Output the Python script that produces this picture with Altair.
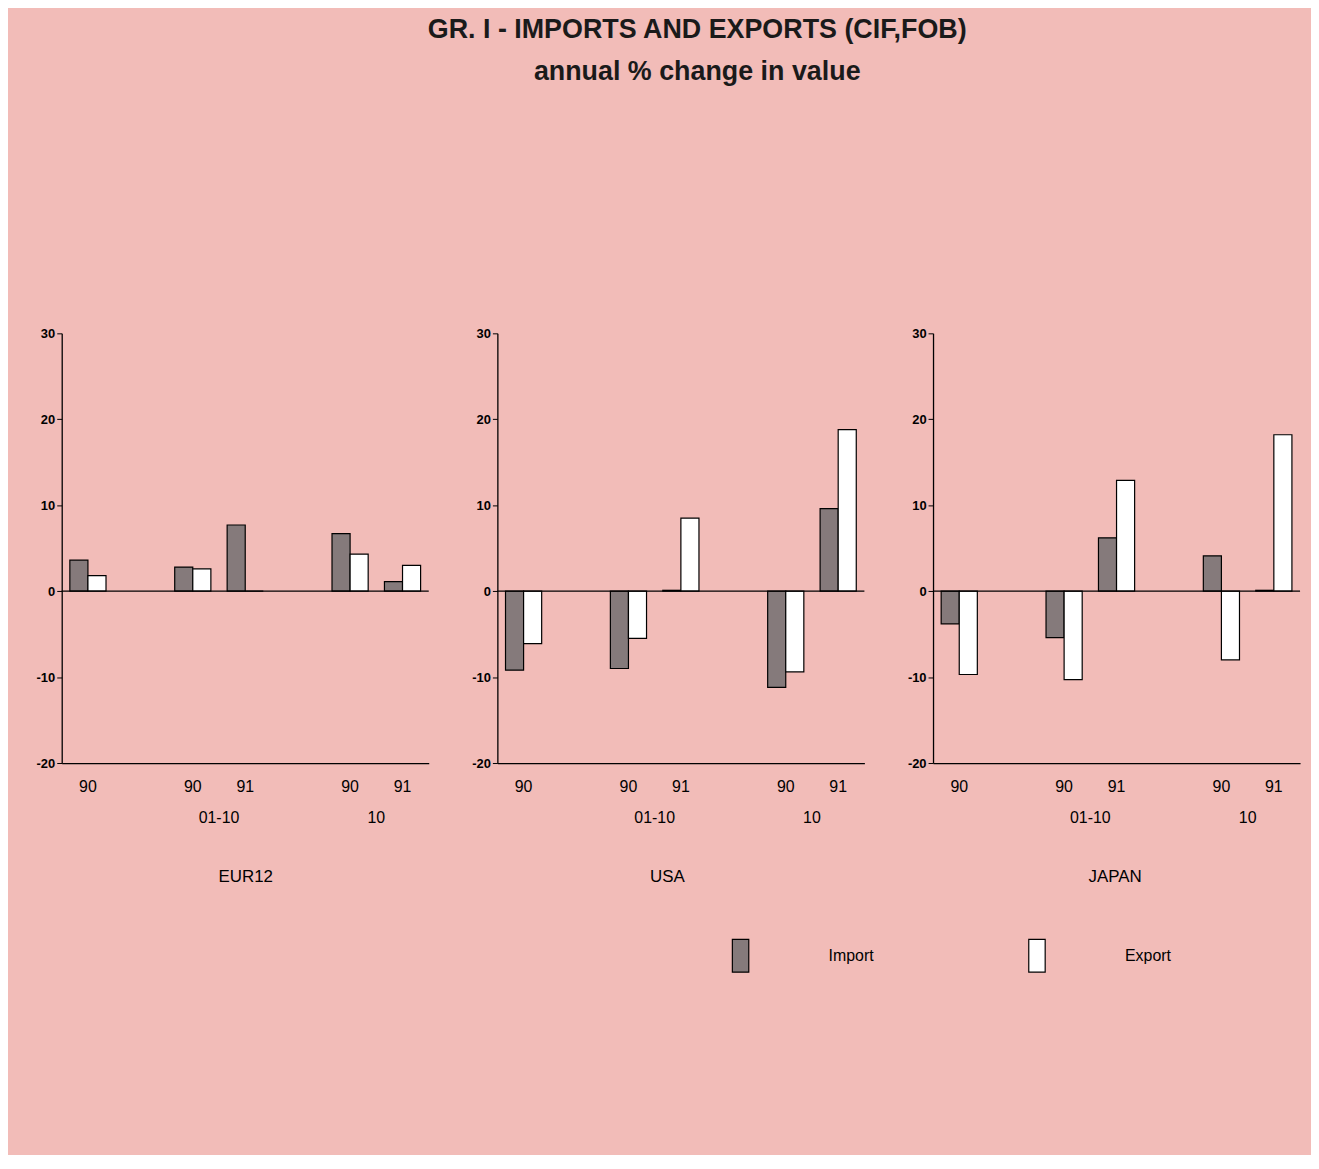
import json
import altair as alt
import pandas as pd

# ---------------- data ----------------
countries = ["EUR12", "USA", "JAPAN"]
flows = ["Import", "Export"]
period_keys = ["A90", "B90", "B91", "C90", "C91"]
period_year = ["90", "90", "91", "90", "91"]
sub_keys = ["B90", "C90"]
sub_labels = ["01-10", "10"]

eur12_import = [3.6, 2.8, 7.7, 6.7, 1.1]
eur12_export = [1.8, 2.6, 0.0, 4.3, 3.0]
usa_import = [-9.2, -9.0, 0.1, -11.2, 9.6]
usa_export = [-6.1, -5.5, 8.5, -9.4, 18.8]
japan_import = [-3.8, -5.4, 6.2, 4.1, 0.1]
japan_export = [-9.7, -10.3, 12.9, -8.0, 18.2]

series = {
    "EUR12": (eur12_import, eur12_export),
    "USA": (usa_import, usa_export),
    "JAPAN": (japan_import, japan_export),
}

rows = []
for c in countries:
    imp, exp = series[c]
    for k, vi, ve in zip(period_keys, imp, exp):
        rows.append({"country": c, "period": k, "flow": "Import", "value": vi})
        rows.append({"country": c, "period": k, "flow": "Export", "value": ve})
df = pd.DataFrame(rows)
sub_df = pd.DataFrame({"period": sub_keys, "label": sub_labels})

# full x domain with empty slots
x_domain = ["A90", "gap1", "B90", "B91", "gap2", "C90", "C91"]
label_map = dict(zip(period_keys, period_year))
label_expr = f"({json.dumps(label_map)})[datum.value] || ''"

FONT = "Liberation Sans Narrow, Arial Narrow, Liberation Sans, sans-serif"
BG = "#f2bcb8"
W, H = 369, 432

title_shift = {"EUR12": 0, "USA": -14, "JAPAN": -2}


def panel(country):
    x_axis = alt.Axis(
        title=country,
        labelExpr=label_expr,
        labelAngle=0,
        ticks=False,
        domainColor="black",
        domainWidth=1.3,
        labelFont=FONT,
        labelFontSize=16,
        labelColor="black",
        labelPadding=16,
        titleFont=FONT,
        titleFontSize=17,
        titleFontWeight="normal",
        titleColor="black",
        titlePadding=74,
        titleX=W / 2 + title_shift[country],
    )
    x_scale = alt.Scale(domain=x_domain, paddingInner=0, paddingOuter=0)
    base = alt.Chart(df[df.country == country])
    bars = base.mark_bar(stroke="black", strokeWidth=1.2).encode(
        x=alt.X("period:N", scale=x_scale, axis=x_axis),
        xOffset=alt.XOffset(
            "flow:N",
            scale=alt.Scale(domain=flows, paddingInner=0, paddingOuter=0.45),
        ),
        y=alt.Y(
            "value:Q",
            scale=alt.Scale(domain=[-20, 30], nice=False, zero=False),
            axis=alt.Axis(
                title=None,
                values=[-20, -10, 0, 10, 20, 30],
                labelExpr="'' + datum.value",
                grid=False,
                tickSize=5,
                tickColor="black",
                domainColor="black",
                domainWidth=1.3,
                labelFont=FONT,
                labelFontSize=13,
                labelFontWeight="bold",
                labelColor="black",
                labelPadding=2,
            ),
        ),
        fill=alt.Fill(
            "flow:N",
            scale=alt.Scale(domain=flows, range=["#857a7b", "#ffffff"]),
            legend=alt.Legend(
                title=None,
                orient="none",
                direction="horizontal",
                legendX=665,
                legendY=608,
                symbolType="M-0.5,-1H0.5V1H-0.5Z",
                symbolSize=1089,
                symbolStrokeColor="black",
                symbolStrokeWidth=1.2,
                labelFont=FONT,
                labelFontSize=16,
                labelColor="black",
                labelOffset=71,
                columnPadding=146,
                padding=0,
            ),
        ),
    )
    zero = alt.Chart().mark_rule(color="black", strokeWidth=1.3).encode(y=alt.datum(0))
    subs = alt.Chart(sub_df).mark_text(
        font=FONT, fontSize=16, color="black", baseline="middle"
    ).encode(
        x=alt.X("period:N", bandPosition=1, scale=x_scale, axis=x_axis),
        y=alt.value(H + 55),
        text="label:N",
    )
    return alt.layer(bars, zero, subs).properties(width=W, height=H)


chart = alt.hconcat(*[panel(c) for c in countries], spacing=42).properties(
    title=alt.TitleParams(
        text="GR. I - IMPORTS AND EXPORTS (CIF,FOB)",
        subtitle="annual % change in value",
        font="Liberation Sans",
        fontSize=27,
        fontWeight="bold",
        color="#1a1a1a",
        subtitleFont="Liberation Sans",
        subtitleFontSize=27,
        subtitleFontWeight="bold",
        subtitleColor="#1a1a1a",
        subtitlePadding=15,
        anchor="middle",
        dx=29,
        offset=243,
    ),
    padding={"left": 28, "top": 5, "right": 10, "bottom": 178},
    background=BG,
).configure_view(stroke=None)

chart.save("out.html", embed_options={"renderer": "svg", "actions": False})
